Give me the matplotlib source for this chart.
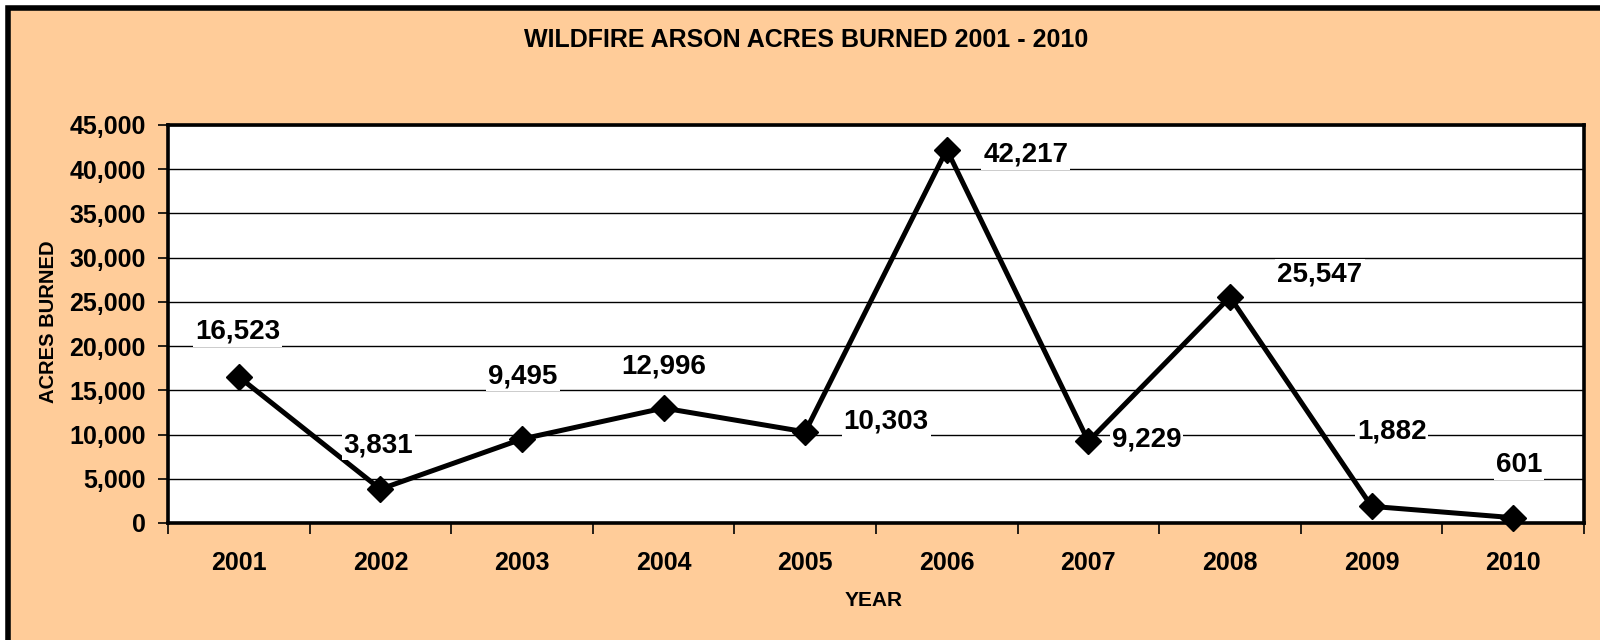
import matplotlib
matplotlib.use("Agg")
import matplotlib.pyplot as plt
from matplotlib.patches import Rectangle
from matplotlib.ticker import FuncFormatter, MultipleLocator

# data
years = ['2001', '2002', '2003', '2004', '2005', '2006', '2007', '2008', '2009', '2010']
acres = [16523, 3831, 9495, 12996, 10303, 42217, 9229, 25547, 1882, 601]

# where each value label sits relative to its point (pixels)
label_offsets = [(-1, 45), (-2, 44), (1, 63), (0, 42), (81, 10),
                 (79, -5), (58, 2), (90, 23), (20, 75), (6, 53)]

plt.rcParams['font.family'] = ['Liberation Sans', 'DejaVu Sans']
plt.rcParams['font.weight'] = 'bold'

fig = plt.figure(figsize=(16, 6.4), dpi=100, facecolor='white')

# peach background with black frame (right/bottom edges run off the picture)
bg = Rectangle((8 / 1600, -0.1), 1.2, 1.1 - 8 / 640, transform=fig.transFigure,
               facecolor='#FFCC99', edgecolor='black', linewidth=4, zorder=-10)
fig.patches.append(bg)

ax = fig.add_axes([168 / 1600, 1 - 523 / 640, (1584 - 168) / 1600, (523 - 125) / 640])
ax.set_facecolor('white')

x = list(range(len(years)))
ax.plot(x, acres, color='black', linewidth=3.6, marker='D', markersize=13,
        zorder=3, clip_on=False)

for xi, val, (dx, dy) in zip(x, acres, label_offsets):
    ax.annotate(f'{val:,}', (xi, val), xytext=(dx, dy), textcoords='offset pixels',
                ha='center', va='center', fontsize=20, fontweight='bold',
                bbox=dict(facecolor='white', edgecolor='none', pad=1.5), zorder=4)

ax.set_xlim(-0.5, len(years) - 0.5)
ax.set_ylim(0, 45000)
ax.yaxis.set_major_locator(MultipleLocator(5000))
ax.yaxis.set_major_formatter(FuncFormatter(lambda v, p: f'{int(v):,}'))
ax.grid(axis='y', color='black', linewidth=1)
ax.set_axisbelow(True)

ax.set_xticks(x)
ax.set_xticklabels(years)
ax.set_xticks([i - 0.5 for i in range(len(years) + 1)], minor=True)
ax.tick_params(axis='x', which='major', length=0, pad=20, labelsize=18)
ax.tick_params(axis='x', which='minor', length=8, width=1.2, direction='out')
ax.tick_params(axis='y', length=7, width=1.2, direction='out', pad=9, labelsize=18)

for s in ax.spines.values():
    s.set_linewidth(2.6)
    s.set_color('black')

fig.text(0.504, 1 - 40 / 640, 'WILDFIRE ARSON ACRES BURNED 2001 - 2010',
         ha='center', va='center', fontsize=18, fontweight='bold')
fig.text(874 / 1600, 1 - 600 / 640, 'YEAR', ha='center', va='center',
         fontsize=15, fontweight='bold')
fig.text(49 / 1600, 1 - 322 / 640, 'ACRES BURNED', ha='center', va='center',
         rotation=90, fontsize=14.5, fontweight='bold')

fig.savefig('out.png', dpi=100, facecolor=fig.get_facecolor())
